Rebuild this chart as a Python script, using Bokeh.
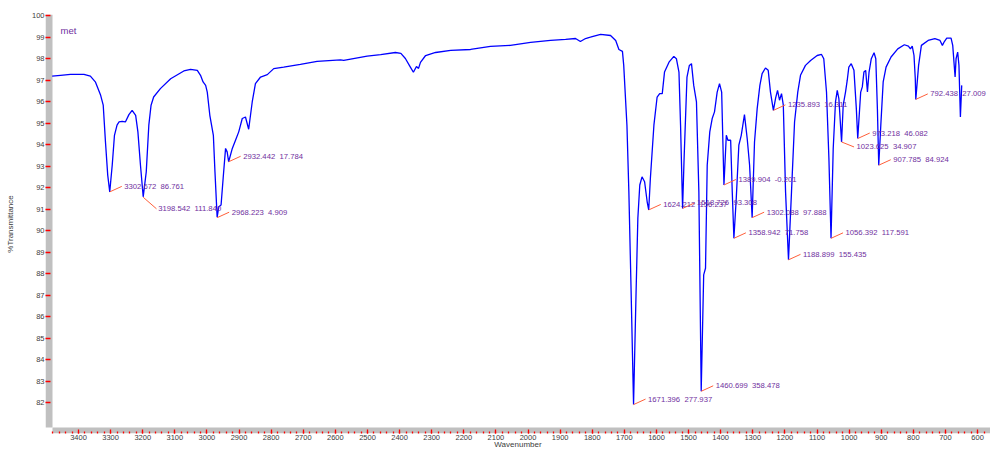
from bokeh.plotting import figure
from bokeh.models import Range1d, FixedTicker
from bokeh.core.properties import value
from bokeh.embed import file_html
from bokeh.resources import INLINE

# ---------------- data ----------------
wavenumber = [3482, 3456, 3425, 3383, 3363, 3347, 3331, 3323, 3316, 3309, 3302.7, 3295, 3288, 3280,
              3274, 3264, 3254, 3243, 3233, 3222, 3215, 3207, 3198.5, 3189, 3181, 3174, 3166, 3145,
              3113, 3072, 3051, 3030, 3020, 3012, 3004, 2999, 2991, 2980, 2975, 2968.2, 2963, 2956,
              2949.5, 2942, 2937, 2932.4, 2921, 2911, 2901, 2890, 2880, 2870, 2859, 2849, 2833, 2812,
              2792, 2761, 2709, 2657, 2584, 2574, 2501, 2459, 2413, 2396, 2382, 2366, 2357, 2347.5,
              2341, 2335, 2319, 2288, 2241, 2179, 2117, 2055, 1992, 1930, 1883, 1852, 1837, 1821,
              1806, 1774, 1743, 1727, 1717, 1706, 1702, 1692, 1686, 1679, 1671.4, 1663.5, 1658, 1652,
              1645, 1637, 1629, 1624.2, 1619, 1608, 1598, 1590, 1582, 1575, 1561, 1546, 1538, 1530,
              1525, 1518.7, 1514, 1505, 1497.6, 1491, 1484, 1475.5, 1468, 1460.7, 1453, 1447.3, 1442,
              1434, 1426.5, 1419.3, 1411, 1403.7, 1397, 1389.9, 1382.5, 1377.5, 1369, 1364, 1358.9,
              1351.5, 1343.5, 1336, 1326, 1317.5, 1310, 1302.1, 1294.7, 1286.4, 1278, 1271, 1260.6,
              1252, 1245, 1235.9, 1229, 1223, 1216.8, 1210.6, 1205, 1198, 1188.9, 1179.5, 1170, 1160,
              1151.5, 1136, 1120, 1099.6, 1086, 1079, 1070.5, 1063, 1056.4, 1049.6, 1042.5, 1037,
              1032, 1023.6, 1018.5, 1011.3, 1006, 1001, 993.5, 985, 977.6, 973.2, 964, 959, 954,
              948.5, 943, 938, 931, 922.4, 917, 912, 907.8, 901.4, 894, 885, 869.5, 848.6, 828,
              815.5, 809, 803.5, 798, 794, 792.4, 783.7, 775, 754, 733, 717, 709.6, 703.4, 696,
              682.6, 677.4, 672, 670, 667, 662, 658, 653.5, 649.4]
transmittance = [97.18, 97.22, 97.26, 97.26, 97.18, 96.90, 96.29, 95.83, 94.12, 92.58, 91.80, 93.04,
                 94.43, 94.90, 95.05, 95.08, 95.05, 95.39, 95.59, 95.36, 94.59, 93.04, 91.57, 92.73,
                 94.90, 95.83, 96.21, 96.60, 97.06, 97.42, 97.50, 97.45, 97.22, 96.91, 96.75, 96.44,
                 95.36, 94.43, 92.73, 90.62, 91.11, 91.19, 92.43, 93.82, 93.66, 93.20, 93.82, 94.20,
                 94.59, 95.21, 95.28, 94.71, 95.98, 96.83, 97.14, 97.25, 97.53, 97.60, 97.73, 97.87,
                 97.94, 97.91, 98.11, 98.18, 98.28, 98.24, 98.00, 97.59, 97.36, 97.63, 97.54, 97.82,
                 98.14, 98.28, 98.38, 98.42, 98.56, 98.61, 98.75, 98.84, 98.89, 98.93, 98.79, 98.93,
                 98.99, 99.12, 99.07, 98.84, 98.42, 98.33, 97.68, 94.90, 91.80, 87.17, 81.91, 87.17,
                 90.57, 92.12, 92.50, 92.27, 91.34, 90.96, 92.43, 94.90, 96.21, 96.37, 96.37, 97.37,
                 97.83, 98.10, 97.99, 97.37, 94.90, 91.03, 93.35, 97.14, 97.68, 97.76, 96.75, 95.98,
                 91.80, 82.53, 87.94, 88.25, 93.04, 94.59, 95.21, 95.52, 96.44, 96.83, 96.44, 92.12,
                 94.43, 94.20, 94.20, 91.80, 89.64, 91.50, 93.97, 94.43, 95.39, 94.28, 93.04, 90.60,
                 94.12, 95.67, 96.75, 97.30, 97.56, 97.45, 96.44, 95.59, 96.16, 96.52, 96.06, 96.37,
                 95.83, 91.80, 88.64, 91.80, 95.05, 96.44, 97.22, 97.68, 97.91, 98.14, 98.19, 97.99,
                 96.44, 93.35, 89.64, 93.82, 95.98, 96.52, 96.14, 94.12, 95.83, 96.44, 96.98, 97.60,
                 97.76, 97.45, 95.67, 94.28, 96.44, 96.68, 97.37, 97.45, 96.44, 97.37, 97.99, 98.27,
                 97.99, 95.67, 93.04, 94.90, 96.91, 97.60, 98.07, 98.45, 98.64, 98.58, 98.45, 98.58,
                 98.14, 97.06, 96.10, 97.68, 98.61, 98.84, 98.92, 98.84, 98.61, 98.79, 98.95, 98.95,
                 98.61, 97.53, 97.14, 97.99, 98.30, 97.68, 95.28, 96.75]

peak_wn = [3302.672, 3198.542, 2968.223, 2932.442, 1671.396, 1624.212, 1518.726, 1460.699,
           1389.904, 1358.942, 1302.088, 1235.893, 1188.899, 1056.392, 1023.625, 973.218,
           907.785, 792.438]
peak_t = [91.80, 91.55, 90.60, 93.20, 81.91, 90.96, 91.03, 82.53, 92.12, 89.64, 90.60, 95.59,
          88.64, 89.64, 94.12, 94.28, 93.04, 96.10]
peak_value = ["86.761", "111.840", "4.909", "17.784", "277.937", "156.237", "93.308", "358.478",
              "-0.201", "71.758", "97.888", "16.311", "155.435", "117.591", "34.907", "46.082",
              "84.924", "27.009"]
peak_side = ["up", "down", "up", "up", "up", "up", "up", "up", "up", "up", "up", "up", "up",
             "up", "down", "up", "up", "up"]

y_ticks = list(range(82, 101))
x_ticks = list(range(600, 3401, 100))
x_minor = list(range(580, 3481, 20))
title_text = "met"
y_title = "%Transmittance"
x_title = "Wavenumber"

# ---------------- layout ----------------
W, H = 990, 451
FL, FR, FT, FB = 45, 990, 14, 434      # frame edges in page pixels
PXW = 0.3211   # px per wavenumber unit
PXT = 21.56    # px per %T unit
x_start = 3400 + (78 - FL) / PXW
x_end = x_start - (FR - FL) / PXW
y_end = 100 + (15 - FT) / PXT
y_start = y_end - (FB - FT) / PXT

p = figure(width=W, height=H, x_range=Range1d(x_start, x_end), y_range=Range1d(y_start, y_end),
           output_backend="svg", toolbar_location=None,
           min_border_left=FL, min_border_right=W - FR, min_border_top=FT,
           min_border_bottom=H - FB)
p.outline_line_color = None
p.grid.grid_line_color = None
p.background_fill_color = "white"
p.border_fill_color = "white"

FONT = "Liberation Sans"
GRAY = "#c0c0c0"

# gray axis bands
band_x = x_start - 7 / PXW
band_y = y_start + 6 / PXT
p.quad(left=[x_start], right=[band_x], bottom=[band_y], top=[y_end], fill_color=GRAY,
       line_color=None)
p.quad(left=[band_x], right=[x_end], bottom=[y_start], top=[band_y], fill_color=GRAY,
       line_color=None)

# spectrum
p.line(wavenumber, transmittance, line_color="#0000ff", line_width=1.3)

# peak annotations
lx0, ly0, lx1, ly1, tx, ty, tt = [], [], [], [], [], [], []
for w, t, v, s in zip(peak_wn, peak_t, peak_value, peak_side):
    if s == "up":
        dx, dy, ox, oy = 12, 5.5, 14.5, 5.5
    else:
        dx, dy, ox, oy = 12.5, -5, 15, -4.5
    if w == 3198.542:
        dx, dy, ox, oy = 13.3, -11.6, 15, -11.6
    lx0.append(w)
    ly0.append(t)
    lx1.append(w - dx / PXW)
    ly1.append(t + dy / PXT)
    tx.append(w - ox / PXW)
    ty.append(t + oy / PXT)
    tt.append(f"{w:.3f}\u00a0\u00a0{v}")

p.segment(x0=lx0, y0=ly0, x1=lx1, y1=ly1, line_color="#ff5f3a", line_width=1)
p.text(x=tx, y=ty, text=tt, text_font=value(FONT), text_font_size="7.7px",
       text_color="#7030a0", text_baseline="middle", text_align="left")

# title inside plot
p.text(x=[x_start - 15 / PXW], y=[y_end - 16 / PXT], text=[title_text], text_font=value(FONT),
       text_font_size="9.5px", text_color="#7030a0", text_baseline="middle", text_align="left")

# axes
xa = p.xaxis[0]
xa.ticker = FixedTicker(ticks=x_ticks, minor_ticks=x_minor)
xa.axis_line_color = None
xa.major_tick_in = 4
xa.major_tick_out = 0
xa.minor_tick_in = 2
xa.minor_tick_out = 0
xa.major_tick_line_color = "#ff0000"
xa.minor_tick_line_color = "#ff0000"
xa.major_tick_line_width = 1.3
xa.minor_tick_line_width = 1.3
xa.major_label_standoff = 1
xa.major_label_text_font = FONT
xa.major_label_text_font_size = "7.5px"
xa.major_label_text_color = "#3c3c3c"
xa.axis_label = x_title
xa.axis_label_text_font = FONT
xa.axis_label_text_font_size = "8px"
xa.axis_label_text_font_style = "normal"
xa.axis_label_text_color = "#3c3c3c"
xa.axis_label_standoff = -3

ya = p.yaxis[0]
ya.ticker = FixedTicker(ticks=y_ticks)
ya.axis_line_color = None
ya.major_tick_in = 5
ya.major_tick_out = 0
ya.minor_tick_line_color = None
ya.major_tick_line_color = "#ff0000"
ya.major_tick_line_width = 1.5
ya.major_label_standoff = 1
ya.major_label_text_font = FONT
ya.major_label_text_font_size = "7.5px"
ya.major_label_text_color = "#3c3c3c"
ya.axis_label = y_title
ya.axis_label_text_font = FONT
ya.axis_label_text_font_size = "8px"
ya.axis_label_text_font_style = "normal"
ya.axis_label_text_color = "#3c3c3c"
ya.axis_label_standoff = 14

open("out.html", "w").write(file_html(p, INLINE))
